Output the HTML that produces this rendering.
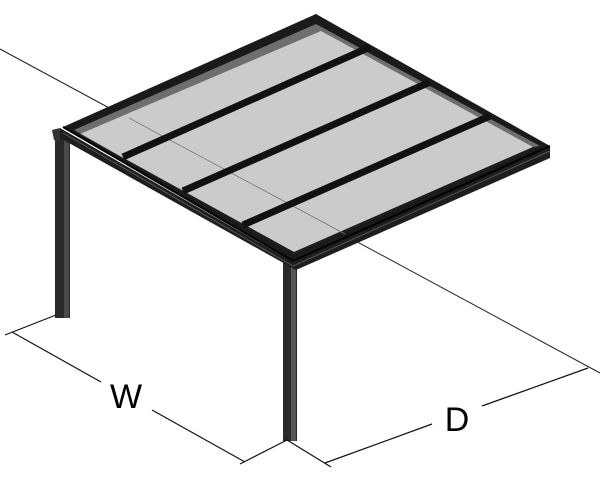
<!DOCTYPE html>
<html><head><style>html,body{margin:0;padding:0;background:#fff;width:600px;height:477px;overflow:hidden}</style></head>
<body>
<svg width="600" height="477" viewBox="0 0 600 477" xmlns="http://www.w3.org/2000/svg">
<line x1="0" y1="49" x2="600" y2="373" stroke="#222" stroke-width="1"/>
<rect x="55" y="135" width="15" height="183" fill="#2a2a2a"/>
<rect x="64" y="135" width="5" height="183" fill="#4a4a4a"/>
<rect x="283" y="262" width="14" height="179" fill="#2a2a2a"/>
<rect x="291" y="262" width="5" height="179" fill="#555"/>
<polygon points="60,128 293,262 550,146 550,158 296,270 60,138" fill="#1e1e1e"/>
<polygon points="52,130 60,128 60,142 54,140" fill="#333"/>
<polygon points="316,14 63,127 293,261 550,146" fill="#1a1a1a"/>
<polygon points="316,24 74,130 293,254 540,146" fill="#6e6e6e"/>
<polygon points="321,31 80,134 294,252 533,147" fill="#d2d2d2" fill-opacity="0.92"/>
<polygon points="74,130 80,134 294,252 293,254" fill="#1a1a1a"/>
<polygon points="293,254 294,252 533,147 540,146" fill="#1a1a1a"/>
<line x1="129" y1="118" x2="345" y2="234" stroke="#777" stroke-width="0.8"/>
<g stroke="#111" stroke-width="7" stroke-linecap="butt">
<line x1="370" y1="47" x2="123" y2="157"/>
<line x1="430" y1="82" x2="183" y2="191"/>
<line x1="490" y1="116" x2="243" y2="225"/>
</g>
<polyline points="63,127 293,261 550,146" fill="none" stroke="#000" stroke-width="2"/>
<line x1="63" y1="133" x2="293" y2="266" stroke="#555" stroke-width="1"/>
<line x1="293" y1="266" x2="550" y2="151" stroke="#555" stroke-width="1"/>
<g stroke="#111" stroke-width="1.2" fill="none">
<line x1="56" y1="315" x2="5" y2="335"/>
<line x1="12" y1="332" x2="101" y2="382"/>
<line x1="152" y1="410" x2="245" y2="462"/>
<line x1="287" y1="440" x2="240" y2="464"/>
<line x1="287" y1="440" x2="331" y2="467"/>
<line x1="325" y1="463" x2="432" y2="424"/>
<line x1="482" y1="406" x2="588" y2="368"/>
</g>
<text x="126" y="408" font-family="Liberation Sans, sans-serif" font-size="34" text-anchor="middle" fill="#000">W</text>
<text x="457" y="431" font-family="Liberation Sans, sans-serif" font-size="34" text-anchor="middle" fill="#000">D</text>
</svg>
</body></html>
